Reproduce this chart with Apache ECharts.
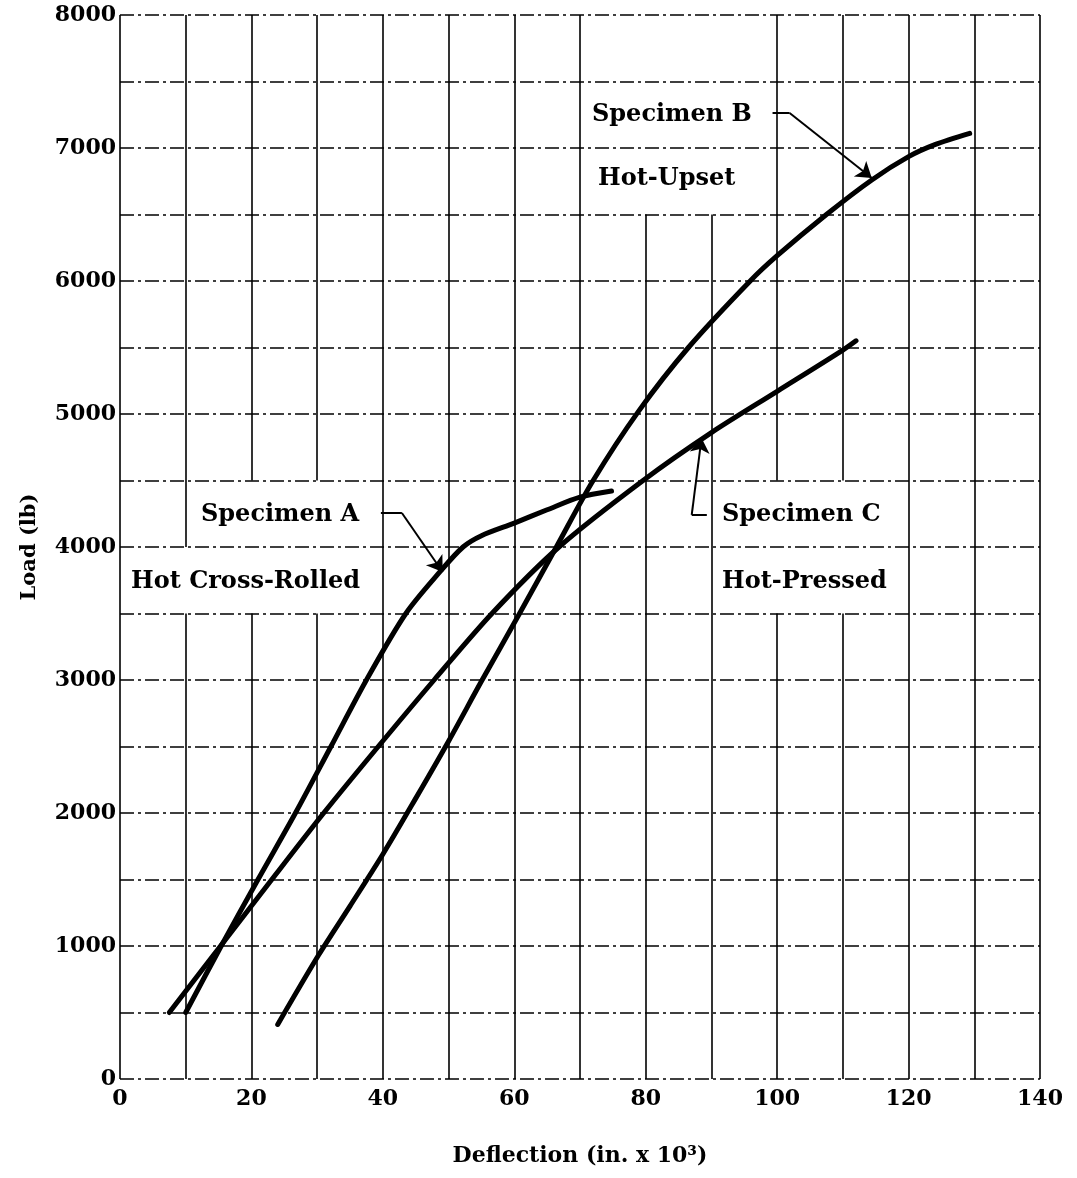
<!DOCTYPE html>
<html>
<head>
<meta charset="utf-8">
<script src="https://cdn.jsdelivr.net/npm/echarts@6/dist/echarts.min.js"></script>
<style>
html,body{margin:0;padding:0;background:#fff;}
#chart{width:1077px;height:1178px;}
</style>
</head>
<body>
<div id="chart"></div>
<script>
// ---- data ----
const xTicks = [0, 20, 40, 60, 80, 100, 120, 140];
const yTicks = [0, 1000, 2000, 3000, 4000, 5000, 6000, 7000, 8000];

// Specimen A - Hot Cross-Rolled
const aX = [10, 15.4, 21.0, 26.7, 32.1, 37.5, 43.5, 48.7, 52.2, 55.0, 60, 65, 70, 74.8];
const aY = [500, 1000, 1500, 2000, 2500, 3000, 3500, 3814, 4000, 4085, 4180, 4280, 4375, 4421];

// Specimen B - Hot-Upset
const bX = [24.0, 30.2, 35, 40, 45, 50, 55, 60.8, 66.4, 72.0, 78.9, 86.5, 95.9, 100, 107.5, 114.4, 120, 124, 129.3];
const bY = [410, 930, 1300, 1690, 2110, 2540, 2990, 3500, 4000, 4500, 5020, 5500, 6000, 6190, 6500, 6760, 6935, 7025, 7110];

// Specimen C - Hot-Pressed
const cX = [7.5, 15.3, 23.1, 31.0, 39.3, 47.8, 56.6, 66.8, 79.6, 90, 100, 110, 112];
const cY = [500, 1000, 1500, 2000, 2500, 3000, 3500, 4000, 4500, 4860, 5170, 5480, 5550];

const labels = {
  a: ['Specimen A', 'Hot Cross-Rolled'],
  b: ['Specimen B', 'Hot-Upset'],
  c: ['Specimen C', 'Hot-Pressed']
};

// ---- build ----
const zip = (xs, ys) => xs.map((x, i) => [x, ys[i]]);
const FONT = 'DejaVu Serif';

// vertical grid lines every 10, with gaps behind the text boxes
const vGridX = [];
for (let x = 0; x <= 140; x += 10) vGridX.push(x);
const vGaps = {
  10: [[3500, 4000]],
  20: [[3500, 4500]],
  30: [[3500, 4500]],
  80: [[6500, 8000]],
  90: [[6500, 8000]],
  100: [[3500, 4500]],
  110: [[3500, 4500]]
};
const vSegs = [];
vGridX.forEach(x => {
  let start = 0;
  (vGaps[x] || []).forEach(g => {
    if (g[0] > start) vSegs.push({coords: [[x, start], [x, g[0]]]});
    start = g[1];
  });
  if (start < 8000) vSegs.push({coords: [[x, start], [x, 8000]]});
});

const curveStyle = {color: '#000', width: 5, cap: 'round', join: 'round'};
function curve(name, xs, ys) {
  return {
    name: name, type: 'line', data: zip(xs, ys),
    showSymbol: false, smooth: 0.3,
    lineStyle: curveStyle, itemStyle: {color: '#000'}, z: 5, silent: true
  };
}

// leader stubs (plain) and leader arrows (with arrow heads)
const stubs = [
  {coords: [[39.7, 4256], [42.9, 4256]]},
  {coords: [[99.3, 7263], [101.9, 7263]]},
  {coords: [[89.3, 4241], [87.0, 4241]]}
];
const arrows = [
  {coords: [[42.9, 4256], [49.1, 3812]]},
  {coords: [[101.9, 7263], [114.4, 6774]]},
  {coords: [[87.0, 4241], [88.5, 4820]]}
];

const chart = echarts.init(document.getElementById('chart'));
const txt = (x, y, s) => ({
  type: 'text', left: x, top: y - 10,
  style: {text: s, font: 'bold 24px "' + FONT + '"', fill: '#000'},
  z: 10
});

chart.setOption({
  backgroundColor: '#fff',
  animation: false,
  grid: {left: 120, right: 37, top: 15, bottom: 99},
  xAxis: {
    type: 'value', min: 0, max: 140, interval: 20,
    axisLine: {show: false}, axisTick: {show: false},
    splitLine: {show: false},
    axisLabel: {
      color: '#000', fontFamily: FONT, fontWeight: 'bold', fontSize: 22, margin: 9,
      formatter: v => xTicks.indexOf(v) >= 0 ? String(v) : ''
    },
    name: 'Deflection (in. x 10\u00B3)', nameLocation: 'middle', nameGap: 66,
    nameTextStyle: {color: '#000', fontFamily: FONT, fontWeight: 'bold', fontSize: 22}
  },
  yAxis: {
    type: 'value', min: 0, max: 8000, interval: 500,
    axisLine: {show: false}, axisTick: {show: false},
    splitLine: {show: true, showMinLine: true, showMaxLine: true,
      lineStyle: {color: '#000', width: 1.5, type: [14, 4, 3, 4]}},
    axisLabel: {
      color: '#000', fontFamily: FONT, fontWeight: 'bold', fontSize: 22, margin: 4,
      formatter: v => yTicks.indexOf(v) >= 0 ? String(v) : ''
    },
    name: 'Load (lb)', nameLocation: 'middle', nameGap: 80,
    nameTextStyle: {color: '#000', fontFamily: FONT, fontWeight: 'bold', fontSize: 21}
  },
  series: [
    {
      type: 'lines', coordinateSystem: 'cartesian2d', polyline: false, silent: true,
      data: vSegs, lineStyle: {color: '#000', width: 1.6, opacity: 1}, z: 1
    },
    curve('Specimen A', aX, aY),
    curve('Specimen B', bX, bY),
    curve('Specimen C', cX, cY),
    {
      type: 'lines', coordinateSystem: 'cartesian2d', polyline: false, silent: true,
      data: stubs, symbol: 'none',
      lineStyle: {color: '#000', width: 2, opacity: 1}, z: 6
    },
    {
      type: 'lines', coordinateSystem: 'cartesian2d', polyline: false, silent: true,
      data: arrows, symbol: ['none', 'arrow'], symbolSize: [1, 15],
      lineStyle: {color: '#000', width: 2, opacity: 1}, z: 6
    }
  ],
  graphic: [
    txt(201, 513, labels.a[0]),
    txt(131, 580, labels.a[1]),
    txt(592, 113, labels.b[0]),
    txt(598, 177, labels.b[1]),
    txt(722, 513, labels.c[0]),
    txt(722, 580, labels.c[1])
  ]
});
</script>
</body>
</html>
